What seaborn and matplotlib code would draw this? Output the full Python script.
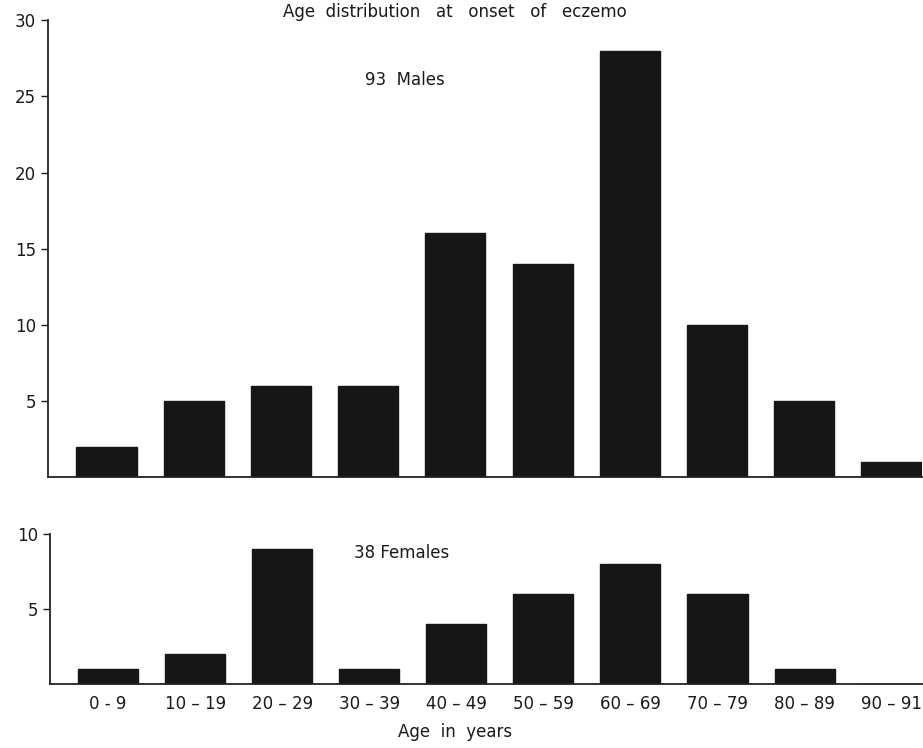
import matplotlib
matplotlib.use("Agg")
import pandas as pd
import matplotlib.pyplot as plt
import seaborn as sns

# age groups and counts
age_groups = ["0 - 9", "10-19", "20-29", "30-39", "40-49",
              "50-59", "60-69", "70-79", "80-89", "90-91"]
males = [2, 5, 6, 6, 16, 14, 28, 10, 5, 1]
females = [1, 2, 9, 1, 4, 6, 8, 6, 1, 0]

male_ticks = [5, 10, 15, 20, 25, 30]
female_ticks = [5, 10]

dfM = pd.DataFrame({"age": age_groups, "count": males})
dfF = pd.DataFrame({"age": age_groups, "count": females})

sns.set_style("ticks")
plt.rcParams['font.family'] = ['DejaVu Sans']

fig = plt.figure(figsize=(9.23, 7.48), dpi=100)
axM = fig.add_axes([0.052, 0.362, 0.947, 0.611])
axF = fig.add_axes([0.054, 0.0856, 0.945, 0.2005])

barColor = "#161616"
txtColor = "#1a1a1a"

for ax, df, ticks, top in [(axM, dfM, male_ticks, 30), (axF, dfF, female_ticks, 10)]:
    sns.barplot(data=df, x="age", y="count", color=barColor, width=0.69,
                saturation=1, ax=ax, edgecolor=barColor)
    ax.set_xlim(-0.67, 9.35)
    ax.set_ylim(0, top)
    ax.set_yticks(ticks)
    ax.set_xlabel("")
    ax.set_ylabel("")
    sns.despine(ax=ax)
    ax.spines['left'].set_linewidth(1.3)
    ax.spines['bottom'].set_linewidth(1.3)
    ax.spines['left'].set_color("#222222")
    ax.spines['bottom'].set_color("#222222")
    ax.tick_params(axis='y', length=5, width=1, labelsize=12, colors=txtColor)

axM.set_xticks([])
axF.set_xticks(range(len(age_groups)))
axF.set_xticklabels([a if " " in a else a.replace("-", " \u2013 ") for a in age_groups])
axF.tick_params(axis='x', length=0, labelsize=12, pad=8, colors=txtColor)

axM.text(3.42, 26.1, "93  Males", fontsize=12, ha='center', va='center', color=txtColor)
axF.text(3.37, 8.7, "38 Females", fontsize=12, ha='center', va='center', color=txtColor)

fig.text(0.493, 0.984, "Age  distribution   at   onset   of   eczemo",
         fontsize=12, ha='center', va='center', color=txtColor)
fig.text(0.493, 0.021, "Age  in  years", fontsize=12, ha='center', va='center', color=txtColor)

fig.savefig("out.png", dpi=100)
